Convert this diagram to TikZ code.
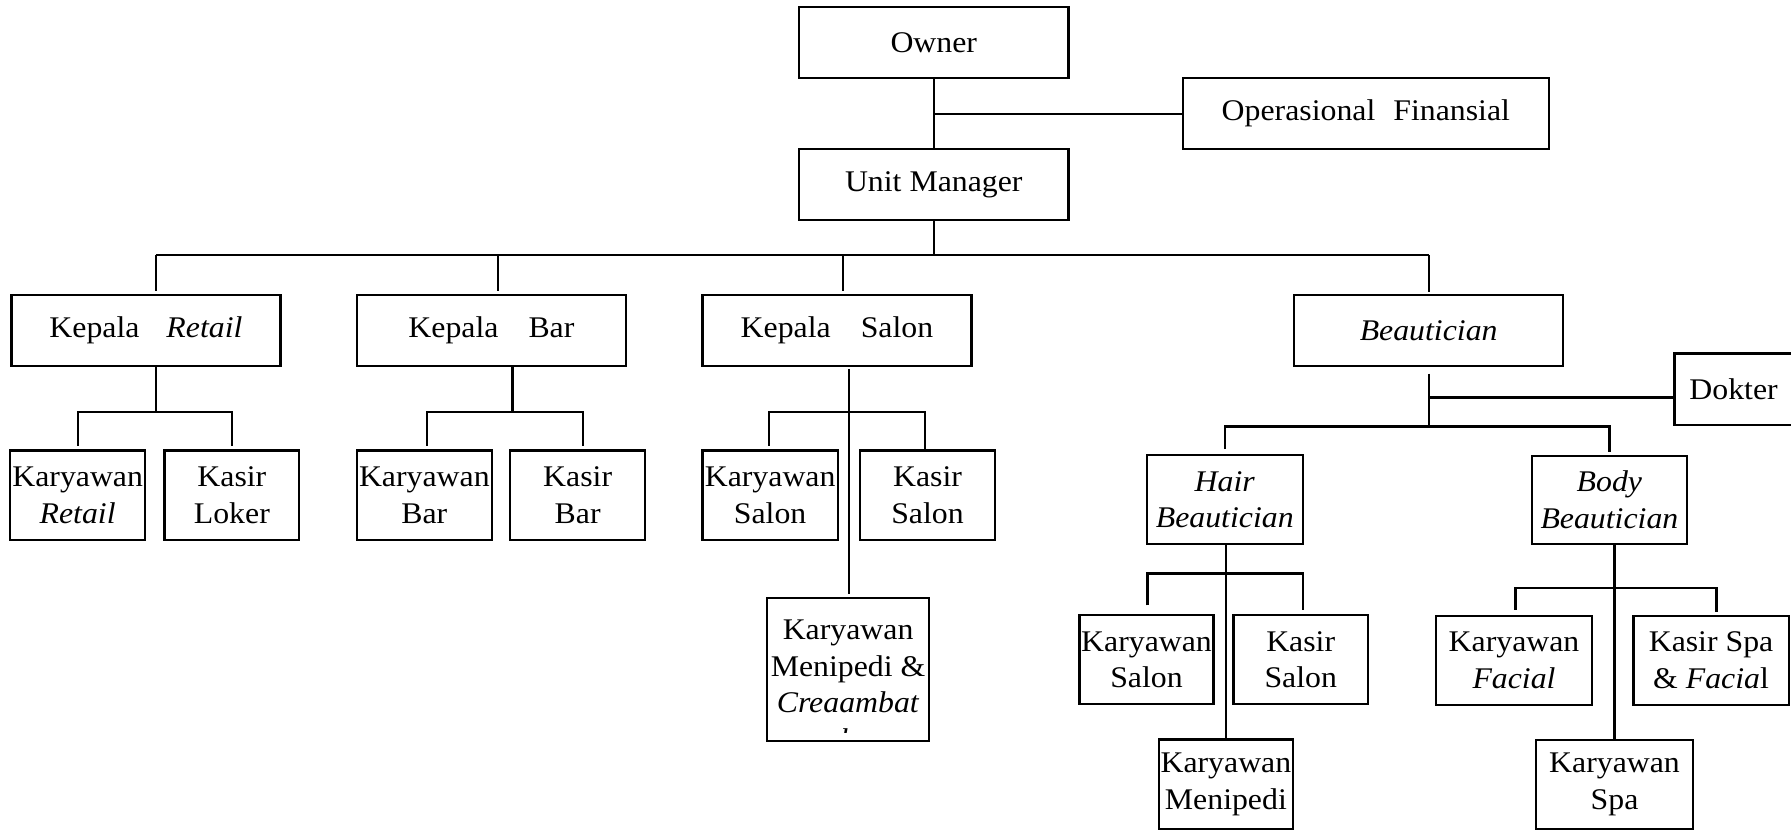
\documentclass[tikz,border=0pt]{standalone}
\usepackage{fontspec}
\setmainfont{Liberation Serif}[FakeStretch=1.06]
\def\u{0.45688pt}
\tikzset{
  orgbox/.style={draw, line width=0.9pt, inner sep=0pt, align=center,
    font=\fontsize{12}{14.6}\selectfont},
  ln/.style={line width=0.9pt},
}
\newcommand\orgbox[6]{%
  \node[orgbox, minimum width={(#4-#2)*\u}, minimum height={(#5-#3)*\u}]
    (#1) at ({(#2+#4)/2},{(#3+#5)/2}) {#6};}
\begin{document}
\begin{tikzpicture}[x=0.45688pt, y=-0.45688pt]
\fill[white] (0,0) rectangle (1568,726);
\useasboundingbox (0,0) rectangle (1568,726);

% top
\orgbox{owner}{699.5}{6}{935.5}{68.5}{Owner}
\orgbox{opfin}{1035.5}{68.5}{1356}{130.5}{Operasional\hspace{0.6em}Finansial}
\orgbox{um}{699.5}{130.5}{935.5}{192.5}{Unit Manager}

% level 2
\orgbox{kr}{10}{258}{245.5}{320.5}{Kepala\hspace{0.9em}\textit{Retail}}
\orgbox{kb}{312.5}{258}{548}{320.5}{Kepala\hspace{1em}Bar}
\orgbox{ks}{615}{258}{850.5}{320.5}{Kepala\hspace{1em}Salon}
\orgbox{bt}{1133}{258}{1368.5}{320.5}{\textit{Beautician}}
\orgbox{dok}{1466}{309.5}{1569.5}{372}{Dokter}

% level 3
\orgbox{kwr}{9}{394.5}{127}{472.5}{Karyawan\\\textit{Retail}}
\orgbox{kl}{144}{394.5}{262}{472.5}{Kasir\\Loker}
\orgbox{kwb}{312.5}{394.5}{430.5}{472.5}{Karyawan\\Bar}
\orgbox{kbb}{446.5}{394.5}{565}{472.5}{Kasir\\Bar}
\orgbox{kws}{615}{394.5}{733.5}{472.5}{Karyawan\\Salon}
\orgbox{kss}{753}{394.5}{871}{472.5}{Kasir\\Salon}
\orgbox{kmc}{671.5}{523.5}{813.5}{648.5}{}
\begin{scope}
  \clip (671.5,525) rectangle (813.5,641);
  \node[align=center, inner sep=0pt, font=\fontsize{12}{14.6}\selectfont]
    (kmctext) at (742.5,599.5) {Karyawan\\Menipedi \&\\\textit{Creaambat}\\\textit{h}};
\end{scope}
\orgbox{hb}{1004}{398.5}{1140.5}{476.5}{\textit{Hair}\\\textit{Beautician}}
\orgbox{bb}{1341}{399}{1477}{476.5}{\textit{Body}\\\textit{Beautician}}

% level 4
\orgbox{kwsh}{945}{538.5}{1062.5}{616.5}{Karyawan\\Salon}
\orgbox{kssh}{1080}{538.5}{1197.5}{616.5}{Kasir\\Salon}
\orgbox{kmp}{1014.5}{647.5}{1132}{725.5}{Karyawan\\Menipedi}
\orgbox{kf}{1257}{539}{1394}{617}{Karyawan\\\textit{Facial}}
\orgbox{ksf}{1430}{539}{1566}{617}{Kasir Spa\\\& \textit{Facia}l}
\orgbox{kspa}{1345}{648}{1482}{725.5}{Karyawan\\Spa}

% connectors: top
\draw[ln] (owner.south) -- (um.north);
\draw[ln] (owner.south |- opfin.west) -- (opfin.west);
\coordinate (busL) at (136.4,223.3);
\coordinate (busB) at (435.8,223.3);
\coordinate (busS) at (738,223.3);
\coordinate (busR) at (1251.3,223.3);
\draw[ln] (um.south) -- (um.south |- busL);
\draw[ln] (busL) -- (busR);
\draw[ln, shorten >=1.2pt] (busL) -- (busL |- kr.north);
\draw[ln, shorten >=1.2pt] (busB) -- (busB |- kb.north);
\draw[ln, shorten >=1pt] (busS) -- (busS |- ks.north);
\draw[ln, shorten >=0.5pt] (busR) -- (busR |- bt.north);

% retail
\coordinate (rj) at (136.4,361);
\draw[ln] (rj |- kr.south) -- (rj);
\draw[ln, shorten <=1.5pt, shorten >=1.5pt] (kwr.north) -- (kwr.north |- rj) -- (kl.north |- rj) -- (kl.north);

% bar
\coordinate (bj) at (448.7,361);
\coordinate (bjl) at (374,361);
\coordinate (bjr) at (510.5,361);
\draw[ln] (bj |- kb.south) -- (bj);
\draw[ln, shorten <=1.5pt, shorten >=1.5pt] (bjl |- kwb.north) -- (bjl) -- (bjr) -- (bjr |- kbb.north);

% salon
\coordinate (sj) at (743.3,361);
\coordinate (sjl) at (673,361);
\coordinate (sjr) at (809.5,361);
\draw[ln, shorten <=0.7pt, shorten >=1pt] (sj |- ks.south) -- (sj |- kmc.north);
\draw[ln, shorten <=1.5pt, shorten >=0.2pt] (sjl |- kws.north) -- (sjl) -- (sjr) -- (sjr |- kss.north);

% beautician
\coordinate (tj) at (1251.3,373.5);
\coordinate (dj) at (1251.3,348);
\draw[ln, shorten <=2.6pt] (tj |- bt.south) -- (tj);
\draw[ln] (dj) -- (dj -| dok.west);
\draw[ln, shorten <=2pt, shorten >=1.2pt] (hb.north) -- (hb.north |- tj) -- (bb.north |- tj) -- (bb.north);

% hair
\coordinate (hj) at (1073,502);
\coordinate (hjl) at (1004.7,502);
\coordinate (hjr) at (1141,502);
\draw[ln] (kmp.north |- hb.south) -- (kmp.north);
\draw[ln, shorten <=3.4pt, shorten >=1.7pt] (hjl |- kwsh.north) -- (hjl) -- (hjr) -- (hjr |- kssh.north);

% body
\coordinate (yj) at (1413.7,515);
\coordinate (yjl) at (1326.8,515);
\coordinate (yjr) at (1502.7,515);
\draw[ln] (kspa.north |- bb.south) -- (kspa.north);
\draw[ln, shorten <=2pt, shorten >=1.2pt] (yjl |- kf.north) -- (yjl) -- (yjr) -- (yjr |- ksf.north);
\end{tikzpicture}
\end{document}
